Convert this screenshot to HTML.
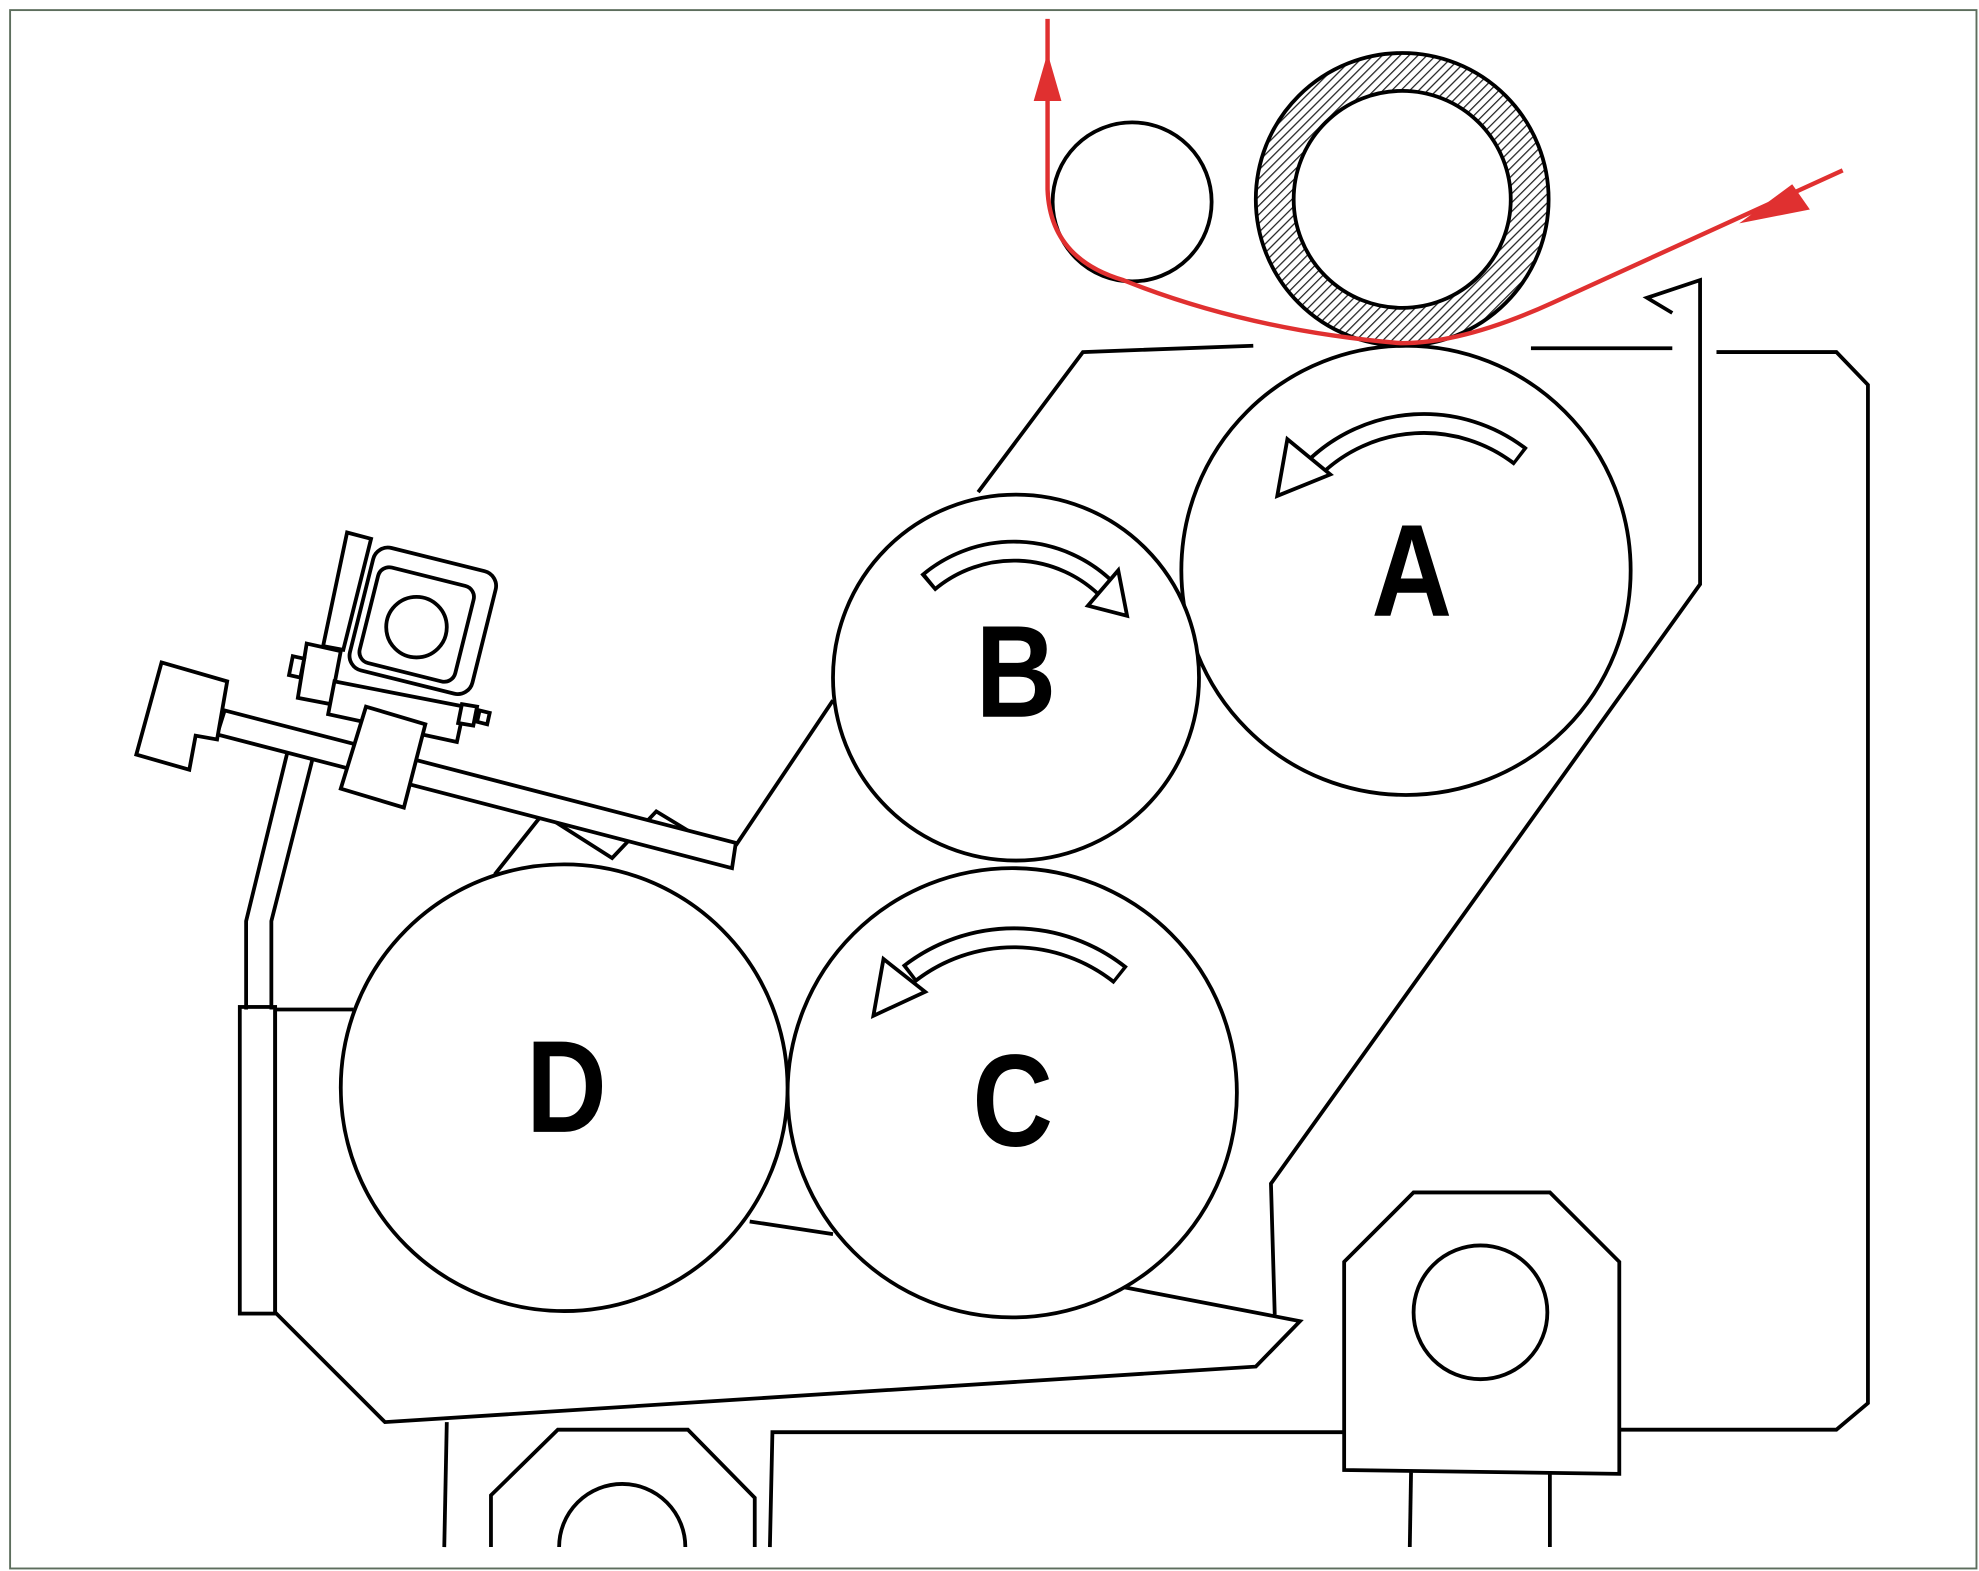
<!DOCTYPE html>
<html><head><meta charset="utf-8"><style>
html,body{margin:0;padding:0;background:#fff;}
svg{display:block;}
</style></head><body>
<svg width="1979" height="1571" viewBox="0 0 1568 1245" preserveAspectRatio="none" xmlns="http://www.w3.org/2000/svg">
<defs>
<pattern id="h" width="5" height="5" patternUnits="userSpaceOnUse" patternTransform="rotate(45)">
<rect width="5" height="5" fill="#fff"/><line x1="0" y1="0" x2="0" y2="5" stroke="#222" stroke-width="2"/>
</pattern>
</defs>
<rect x="0" y="0" width="1568" height="1245" fill="#fff"/>
<rect x="8" y="8" width="1558" height="1235" fill="none" stroke="#5d6e5d" stroke-width="1.5"/>
<g fill="none" stroke="#000" stroke-width="3" stroke-linejoin="miter">
<polyline points="775,390 858,279 993,274"/>
<line x1="1213" y1="276" x2="1325" y2="276"/>
<polyline points="1360,279 1455,279 1480,305 1480,1112 1455,1133 1283,1133"/>
<polyline points="1325,248 1305,236 1347,222 1347,463 1007,938 1010,1042"/>
<polyline points="660,555 583,670"/>
<polyline points="890,1020 1030,1047 995,1083 305,1127 218,1040 218,800 280,800"/>
<rect x="190" y="798" width="28" height="243"/>
<line x1="594" y1="968" x2="660" y2="978"/>
<line x1="354" y1="1127" x2="352" y2="1226"/>
<polyline points="389,1226 389,1185 442,1133 545,1133 598,1187 598,1226"/>
<path d="M443,1226 A50,50 0 0 1 543,1226"/>
<polyline points="610,1226 612,1135 1065,1135"/>
<polygon points="1065,1000 1120,945 1228,945 1283,1000 1283,1168 1065,1165"/>
<circle cx="1173" cy="1040" r="53"/>
<line x1="1118" y1="1167" x2="1117" y2="1226"/>
<line x1="1228" y1="1168" x2="1228" y2="1226"/>
<circle cx="1114" cy="452" r="178" fill="#fff"/>
<circle cx="805" cy="537" r="145" fill="#fff"/>
<circle cx="802" cy="866" r="178" fill="#fff"/>
<circle cx="447" cy="862" r="177" fill="#fff"/>
<circle cx="897" cy="160" r="63"/>
<circle cx="1111" cy="158" r="116" fill="url(#h)"/>
<circle cx="1111" cy="158" r="86" fill="#fff"/>
<polyline points="392,693 430,645 485,680 520,643 548,660"/>
<polyline points="228,595 195,730 195,800"/>
<polyline points="248,600 215,730 215,800"/>
<polygon points="178,563 583,668 580,688 172,582" fill="#fff"/>
<polygon points="128,525 180,540 172,586 155,583 150,610 108,598" fill="#fff"/>
<polygon points="275,422 294,427 272,515 256,512" fill="#fff"/>
<g transform="rotate(14 335 492)">
<rect x="285" y="442" width="100" height="100" rx="12" fill="#fff"/>
<rect x="292" y="457" width="78" height="78" rx="9" fill="#fff"/>
</g>
<circle cx="330" cy="497" r="24"/>
<polygon points="243,510 270,516 262,558 236,553" fill="#fff"/>
<polygon points="232,520 241,522 238,537 229,535" fill="#fff"/>
<polygon points="265,540 368,560 362,588 260,566" fill="#fff"/>
<polygon points="366,558 378,560 375,575 363,573" fill="#fff"/>
<polygon points="380,563 388,565 386,574 378,572" fill="#fff"/>
<polygon points="290,560 337,574 320,640 270,625" fill="#fff"/>
</g>
<g fill="none" stroke-linecap="butt">
<path d="M1205,362 A125,125 0 0 0 1040,372" stroke="#000" stroke-width="18"/>
<path d="M1205,362 A125,125 0 0 0 1040,372" stroke="#fff" stroke-width="12" pathLength="100" stroke-dasharray="0 1.5 97 100"/>
<path d="M735,462 A105,105 0 0 1 878,468" stroke="#000" stroke-width="18"/>
<path d="M735,462 A105,105 0 0 1 878,468" stroke="#fff" stroke-width="12" pathLength="100" stroke-dasharray="0 2 96 100"/>
<path d="M888,773 A135,135 0 0 0 720,772" stroke="#000" stroke-width="18"/>
<path d="M888,773 A135,135 0 0 0 720,772" stroke="#fff" stroke-width="12" pathLength="100" stroke-dasharray="0 1.5 97 100"/>
</g>
<g fill="#fff" stroke="#000" stroke-width="3">
<polygon points="1012,393 1020,348 1054,376"/>
<polygon points="893,488 886,452 862,480"/>
<polygon points="692,805 700,760 733,786"/>
</g>
<g stroke="#e03030" stroke-width="3.5" fill="none">
<path d="M830,15 L830,150 Q832,205 890,222 Q990,262 1110,272 Q1160,272 1230,240 L1460,135"/>
</g>
<polygon points="830,42 819,80 841,80" fill="#e03030"/>
<polygon points="1378,177 1420,146 1434,166" fill="#e03030"/>
<g font-family="'Liberation Sans',sans-serif" font-weight="bold" font-size="104" text-anchor="middle" fill="#000">
<text x="1119" y="488" transform="scale(0.85 1) translate(197 0)">A</text>
<text x="805" y="568" transform="scale(0.85 1) translate(142 0)">B</text>
<text x="802" y="908" transform="scale(0.85 1) translate(142 0)">C</text>
<text x="449" y="897" transform="scale(0.85 1) translate(79 0)">D</text>
</g>
</svg>
</body></html>
